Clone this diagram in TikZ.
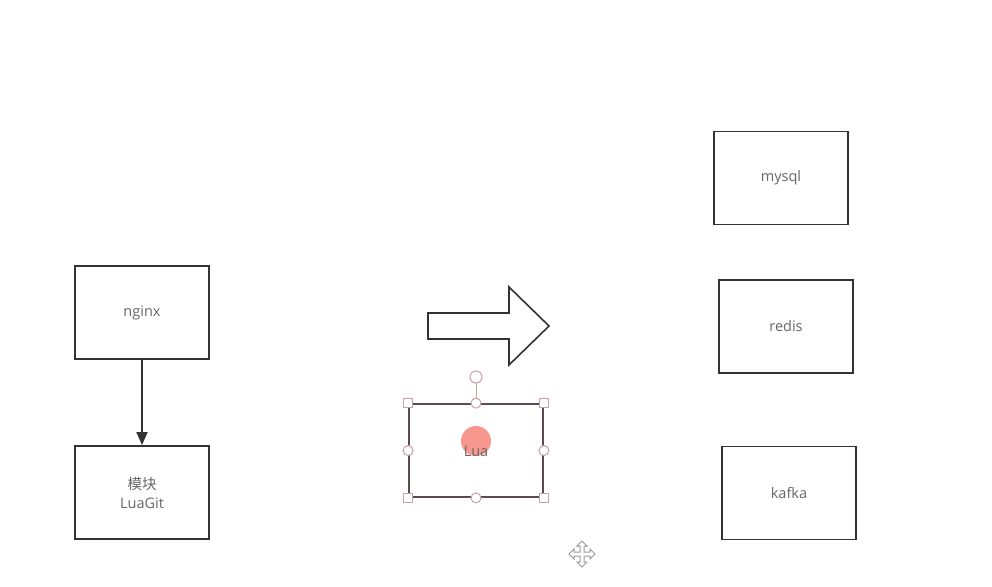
\documentclass[tikz,border=0pt]{standalone}
\usepackage{fontspec}
\setmainfont{Open Sans}
\newfontfamily\cjk{Noto Sans CJK SC}
\usetikzlibrary{arrows.meta}
\definecolor{boxline}{HTML}{333333}
\definecolor{txt}{HTML}{666666}
\definecolor{selline}{HTML}{5E4A4C}
\definecolor{handle}{HTML}{C9A0A4}
\definecolor{dot}{HTML}{F7857A}
\tikzset{
  box/.style={draw=boxline, line width=1.8pt, minimum width=134pt, minimum height=93pt, inner sep=0pt, text=txt, font=\fontsize{14.5pt}{19pt}\selectfont, align=center},
  sqh/.style={draw=handle, fill=white, line width=1pt, minimum size=9pt, inner sep=0pt},
  cih/.style={draw=handle, fill=white, line width=1pt, circle, minimum size=10pt, inner sep=0pt},
}
\begin{document}
\begin{tikzpicture}[x=1pt,y=-1pt]
\useasboundingbox (0,0) rectangle (992,586);
% left boxes
\node[box] (nginx) at (142,312.5) {nginx};
\node[box] (luagit) at (142,492.5) {{\cjk 模块}\\LuaGit};
\draw[draw=boxline, line width=1.8pt, -{Triangle[length=13pt,width=11pt]}] (nginx.south) -- (luagit.north);
% right boxes
\node[box] (mysql) at (781,178) {mysql};
\node[box] (redis) at (786,326.5) {redis};
\node[box] (kafka) at (789,493) {kafka};
% block arrow
\draw[draw=boxline, line width=1.6pt, line join=miter, fill=white]
  (428,313) -- (509,313) -- (509,287) -- (549,326) -- (509,365) -- (509,339) -- (428,339) -- cycle;
% selected Lua box
\node[box, draw=selline] (lua) at (476,450.5) {};
\fill[dot, opacity=0.85] (476,441) circle (15);
\node[text=txt, font=\fontsize{14.5pt}{19pt}\selectfont] (luatext) at (476,451) {Lua};
\coordinate (rot) at (476,377);
\draw[draw=handle, line width=1pt] (lua.north) -- (rot);
\node[cih, minimum size=12pt] (hrot) at (rot) {};
\node[sqh] at (lua.north west) {};
\node[sqh] at (lua.north east) {};
\node[sqh] at (lua.south west) {};
\node[sqh] at (lua.south east) {};
\node[cih] at (lua.north) {};
\node[cih] at (lua.south) {};
\node[cih] at (lua.west) {};
\node[cih] at (lua.east) {};
% move cursor
\begin{scope}[shift={(582,554)}, draw=gray!80, line width=1pt, fill=white]
  \draw (0,-13) -- (5,-8) -- (2,-8) -- (2,-2) -- (8,-2) -- (8,-5) -- (13,0) -- (8,5) -- (8,2) -- (2,2) -- (2,8) -- (5,8) -- (0,13) -- (-5,8) -- (-2,8) -- (-2,2) -- (-8,2) -- (-8,5) -- (-13,0) -- (-8,-5) -- (-8,-2) -- (-2,-2) -- (-2,-8) -- (-5,-8) -- cycle;
\end{scope}
\end{tikzpicture}
\end{document}
